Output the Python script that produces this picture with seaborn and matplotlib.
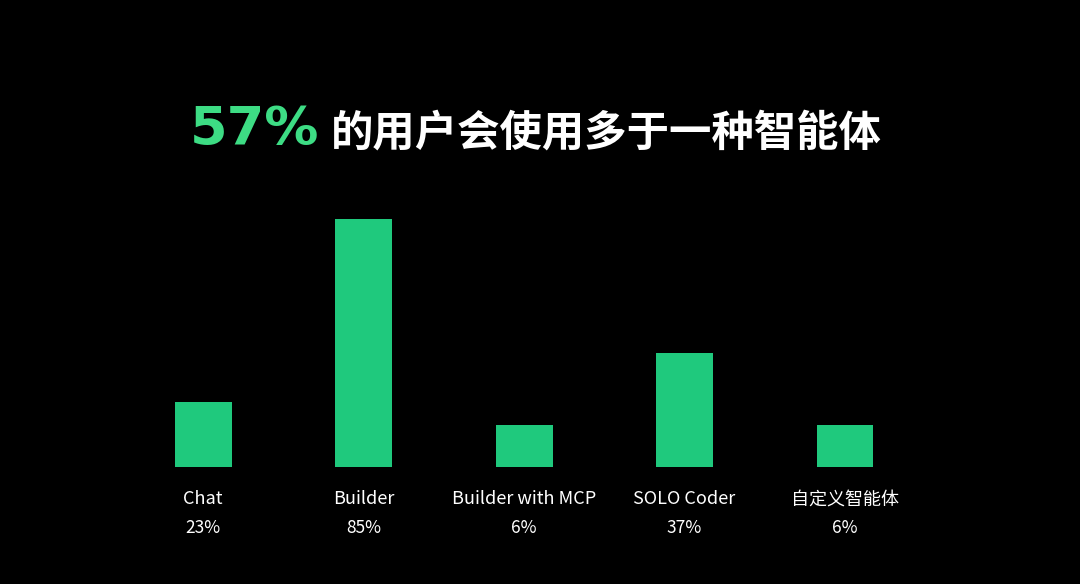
import matplotlib
matplotlib.use("Agg")
import matplotlib.pyplot as plt
import seaborn as sns
import pandas as pd

# ─── DATA ─────────────────────────────────────────────────────────────────────
categories = ['Chat', 'Builder', 'Builder with MCP', 'SOLO Coder', '自定义智能体']
pct_labels = ['23%', '85%', '6%', '37%', '6%']
bar_heights = [22.3, 85, 14.4, 39, 14.4]   # as drawn in the picture
headline_pct = '57%'
headline_text = '的用户会使用多于一种智能体'

BAR_GREEN = '#1fc97d'
TITLE_GREEN = '#3ddc84'

sns.set_theme(style='white')
plt.rcParams['font.family'] = ['Noto Sans CJK SC', 'DejaVu Sans']

df = pd.DataFrame({'agent': categories, 'share': bar_heights})

fig = plt.figure(figsize=(10.8, 5.84), dpi=100, facecolor='black')
ax = fig.add_axes([0.1137, 0.2, 0.743, 0.4997])
ax.set_facecolor('black')
sns.barplot(data=df, x='agent', y='share', order=categories, color=BAR_GREEN,
            width=0.355, saturation=1, linewidth=0, ax=ax)
ax.set_xlim(-0.5, len(categories) - 0.5)
ax.set_ylim(0, 100)
ax.set_axis_off()

for i, (name, pct) in enumerate(zip(categories, pct_labels)):
    ax.annotate(name, (i, 0), xytext=(0, -23), textcoords='offset points',
                ha='center', va='center', color='white', fontsize=13)
    ax.annotate(pct, (i, 0), xytext=(0, -44), textcoords='offset points',
                ha='center', va='center', color='white', fontsize=12.5)

fig.text(0.176, 0.777, headline_pct, color=TITLE_GREEN, fontsize=39,
         fontweight='bold', ha='left', va='center', family=['DejaVu Sans'])
fig.text(0.306, 0.771, headline_text, color='white', fontsize=30.5,
         fontweight='bold', ha='left', va='center')

fig.savefig('out.png', dpi=100, facecolor='black')
